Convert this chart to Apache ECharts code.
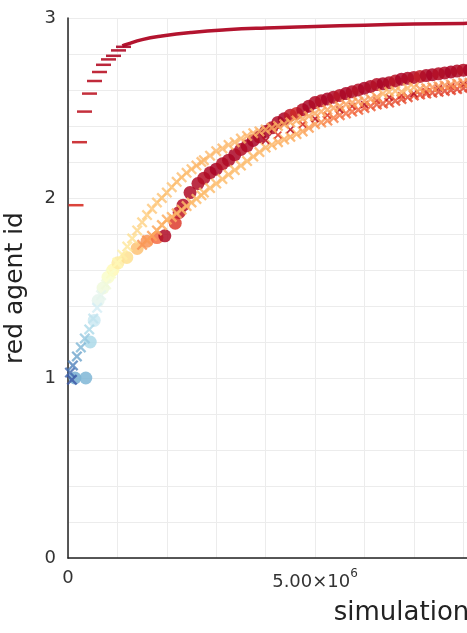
<!DOCTYPE html>
<html>
<head>
<meta charset="utf-8">
<script src="https://cdn.jsdelivr.net/npm/echarts/dist/echarts.min.js"></script>
<style>
  html, body { margin: 0; padding: 0; background: #fff; }
  #chart { width: 467px; height: 633px; }
</style>
</head>
<body>
<div id="chart"></div>
<script>
// top series: separate "-" markers near the start, then a dense run drawn as a line
const topMarkX = [1.62e5, 2.33e5, 3.34e5, 4.35e5, 5.36e5, 6.38e5, 7.19e5, 8.2e5, 9.21e5, 1.022e6, 1.123e6]
const topMarkY = [1.96, 2.31, 2.48, 2.58, 2.65, 2.70, 2.74, 2.77, 2.79, 2.82, 2.84]
const topMarkC = [0.9, 0.93, 0.95, 0.95, 0.96, 0.96, 0.97, 0.97, 0.98, 0.98, 0.99]
const topLineX = [1.1e6, 1.2e6, 1.5e6, 1.9e6, 2.5e6, 3.2e6, 4.0e6, 5.0e6, 6.0e6, 7.0e6, 8.0e6, 9.0e6, 1.0e7]
const topLineY = [2.845, 2.855, 2.88, 2.9, 2.92, 2.935, 2.945, 2.953, 2.96, 2.966, 2.97, 2.973, 2.976]

// x positions shared by the three rows of the thick band
const bandX = [2.75e6, 2.875e6, 3.0e6, 3.125e6, 3.25e6, 3.375e6, 3.5e6, 3.625e6, 3.75e6, 3.875e6,
  4.0e6, 4.125e6, 4.25e6, 4.375e6, 4.5e6, 4.625e6, 4.75e6, 4.875e6, 5.0e6, 5.125e6,
  5.25e6, 5.375e6, 5.5e6, 5.625e6, 5.75e6, 5.875e6, 6.0e6, 6.125e6, 6.25e6, 6.375e6,
  6.5e6, 6.625e6, 6.75e6, 6.875e6, 7.0e6, 7.125e6, 7.25e6, 7.375e6, 7.5e6, 7.625e6,
  7.75e6, 7.875e6, 8.0e6, 8.125e6, 8.25e6]

// circles
const circEarlyX = [1.4e5, 3.6e5, 4.5e5, 5.3e5, 6.1e5, 7.1e5, 8.1e5, 9.1e5, 1.01e6, 1.19e6,
  1.4e6, 1.6e6, 1.8e6, 1.96e6, 2.17e6, 2.25e6, 2.33e6, 2.47e6, 2.63e6]
const circEarlyY = [1.0, 1.0, 1.2, 1.32, 1.43, 1.5, 1.56, 1.6, 1.64, 1.67,
  1.72, 1.76, 1.78, 1.79, 1.86, 1.92, 1.96, 2.03, 2.08]
const circEarlyC = [0.2, 0.22, 0.3, 0.36, 0.42, 0.45, 0.48, 0.52, 0.56, 0.6,
  0.66, 0.74, 0.8, 0.98, 0.88, 0.95, 0.97, 0.98, 0.98]
const circBandY = [2.11, 2.14, 2.16, 2.19, 2.21, 2.24, 2.27, 2.29, 2.32, 2.34,
  2.37, 2.39, 2.42, 2.44, 2.46, 2.47, 2.49, 2.51, 2.53, 2.54,
  2.55, 2.56, 2.57, 2.58, 2.59, 2.60, 2.61, 2.62, 2.63, 2.635,
  2.64, 2.65, 2.66, 2.665, 2.67, 2.675, 2.68, 2.685, 2.69, 2.695,
  2.70, 2.705, 2.71, 2.71, 2.715]
const circBandC = [0.97, 0.98, 0.99, 0.97, 0.98, 0.99, 0.97, 0.98, 0.99, 0.98,
  0.99, 0.97, 0.98, 0.99, 0.95, 0.92, 0.97, 0.99, 0.98, 0.97,
  0.99, 0.98, 0.96, 0.99, 0.98, 0.97, 0.99, 0.98, 0.97, 0.99,
  0.98, 0.96, 0.99, 0.98, 0.97, 0.94, 0.98, 0.99, 0.97, 0.98,
  0.99, 0.98, 0.97, 0.99, 0.98]

// crosses, upper/left row
const xaEarlyX = [4e4, 8e4, 1.0e5, 1.8e5, 2.6e5, 3.4e5, 4.3e5, 5.1e5, 5.9e5, 6.7e5,
  7.7e5, 8.7e5, 1.0e6, 1.1e6, 1.2e6, 1.3e6, 1.4e6, 1.5e6, 1.6e6, 1.7e6,
  1.8e6, 1.9e6, 2.0e6, 2.1e6, 2.2e6, 2.3e6, 2.4e6, 2.5e6, 2.6e6, 2.7e6]
const xaEarlyY = [1.03, 0.99, 1.07, 1.12, 1.17, 1.22, 1.27, 1.33, 1.39, 1.46,
  1.52, 1.58, 1.64, 1.685, 1.73, 1.775, 1.82, 1.865, 1.905, 1.94,
  1.975, 2.0, 2.03, 2.06, 2.09, 2.115, 2.14, 2.16, 2.18, 2.2]
const xaEarlyC = [0.08, 0.05, 0.12, 0.18, 0.22, 0.26, 0.3, 0.34, 0.38, 0.42,
  0.45, 0.48, 0.52, 0.55, 0.58, 0.6, 0.62, 0.63, 0.64, 0.65,
  0.65, 0.66, 0.66, 0.66, 0.67, 0.67, 0.67, 0.67, 0.68, 0.68]
const xaBandY = [2.21, 2.235, 2.26, 2.275, 2.295, 2.31, 2.33, 2.345, 2.36, 2.37,
  2.38, 2.39, 2.40, 2.41, 2.42, 2.43, 2.44, 2.455, 2.47, 2.48,
  2.49, 2.50, 2.51, 2.52, 2.53, 2.535, 2.54, 2.55, 2.56, 2.58,
  2.59, 2.595, 2.59, 2.61, 2.615, 2.605, 2.61, 2.615, 2.62, 2.625,
  2.63, 2.635, 2.64, 2.64, 2.645]
const xaBandC = [0.68, 0.68, 0.68, 0.68, 0.68, 0.68, 0.68, 0.69, 0.69, 0.69,
  0.69, 0.7, 0.7, 0.7, 0.7, 0.7, 0.71, 0.71, 0.71, 0.71,
  0.72, 0.72, 0.72, 0.72, 0.72, 0.73, 0.73, 0.73, 0.73, 0.69,
  0.68, 0.68, 0.7, 0.68, 0.69, 0.73, 0.73, 0.74, 0.74, 0.74,
  0.74, 0.75, 0.75, 0.75, 0.75]

// crosses, lower row
const xbEarlyX = [1.5e6, 1.6e6, 1.7e6, 1.8e6, 1.9e6, 2.0e6, 2.1e6, 2.2e6, 2.3e6, 2.4e6,
  2.5e6, 2.6e6, 2.7e6]
const xbEarlyY = [1.74, 1.765, 1.79, 1.82, 1.85, 1.88, 1.895, 1.915, 1.935, 1.955,
  1.975, 1.995, 2.015]
const xbEarlyC = [0.74, 0.73, 0.72, 0.71, 0.7, 0.7, 0.69, 0.69, 0.68, 0.68,
  0.68, 0.67, 0.67]
const xbBandY = [2.03, 2.055, 2.08, 2.105, 2.13, 2.155, 2.18, 2.205, 2.23, 2.255,
  2.28, 2.295, 2.31, 2.325, 2.34, 2.355, 2.37, 2.39, 2.41, 2.42,
  2.43, 2.445, 2.46, 2.47, 2.48, 2.49, 2.50, 2.51, 2.52, 2.525,
  2.53, 2.54, 2.55, 2.56, 2.57, 2.575, 2.58, 2.585, 2.59, 2.595,
  2.60, 2.605, 2.61, 2.615, 2.62]
const xbBandC = [0.67, 0.67, 0.67, 0.67, 0.67, 0.67, 0.67, 0.67, 0.68, 0.68,
  0.68, 0.68, 0.69, 0.69, 0.7, 0.7, 0.71, 0.72, 0.73, 0.74,
  0.76, 0.77, 0.78, 0.79, 0.8, 0.81, 0.82, 0.82, 0.83, 0.83,
  0.84, 0.84, 0.84, 0.85, 0.85, 0.85, 0.85, 0.85, 0.86, 0.86,
  0.86, 0.86, 0.86, 0.86, 0.86]

// small dark crosses in the middle of the band
const xcX = [4.0e6, 4.25e6, 4.5e6, 4.75e6, 5.0e6, 5.25e6, 5.5e6, 5.75e6, 6.0e6, 6.25e6,
  6.5e6, 6.75e6, 7.0e6, 7.25e6, 7.5e6, 7.75e6, 8.0e6, 8.25e6]
const xcY = [2.32, 2.35, 2.38, 2.41, 2.44, 2.46, 2.49, 2.51, 2.52, 2.54,
  2.56, 2.57, 2.58, 2.59, 2.61, 2.62, 2.63, 2.63]
const xcC = [0.96, 0.88, 0.95, 0.9, 0.96, 0.88, 0.95, 0.9, 0.96, 0.88,
  0.95, 0.9, 0.96, 0.88, 0.95, 0.9, 0.96, 0.9]

const FONT = 'DejaVu Sans'
const CROSS = 'path://M0,1.5L1.5,0L5,3.5L8.5,0L10,1.5L6.5,5L10,8.5L8.5,10L5,6.5L1.5,10L0,8.5L3.5,5Z'

function pts(xs, ys, cs) {
  return xs.map((x, i) => cs ? [x, ys[i], cs[i]] : [x, ys[i]])
}

function xLabel(v) {
  if (v === 0) return '{z|0}'
  let e = Math.floor(Math.log10(v))
  let m = (v / Math.pow(10, e)).toFixed(2)
  return '{m|' + m + '×10}{e|' + e + '}'
}

const chart = echarts.init(document.getElementById('chart'))
chart.setOption({
  animation: false,
  // plot runs past the right edge of the window, the picture is cropped there
  grid: { left: 68, top: 18, bottom: 75, right: -268, outerBoundsMode: 'none', containLabel: false },
  visualMap: {
    show: false, type: 'continuous', dimension: 2, min: 0, max: 1,
    seriesIndex: [1, 2, 3, 4, 5],
    inRange: { color: ['#313695', '#4575b4', '#74add1', '#abd9e9', '#e0f3f8', '#ffffbf',
      '#fee090', '#fdae61', '#f46d43', '#d73027', '#a50026'] }
  },
  xAxis: {
    type: 'value', min: 0, max: 1.35e7, interval: 5e6,
    name: 'simulation', nameLocation: 'middle', nameGap: 42,
    nameTextStyle: { fontFamily: FONT, fontSize: 26, color: '#222' },
    axisLine: { lineStyle: { color: '#222', width: 1.5 } },
    axisTick: { show: false },
    axisLabel: {
      margin: 10, formatter: xLabel, showMaxLabel: false,
      rich: {
        z: { fontFamily: FONT, fontSize: 18, color: '#333', lineHeight: 20 },
        m: { fontFamily: FONT, fontSize: 18, color: '#333', lineHeight: 28 },
        e: { fontFamily: FONT, fontSize: 12, color: '#333', lineHeight: 16, verticalAlign: 'top' }
      }
    },
    splitLine: { lineStyle: { color: '#ececec' } },
    minorTick: { show: false, splitNumber: 5 },
    minorSplitLine: { show: true, lineStyle: { color: '#ececec' } }
  },
  yAxis: {
    type: 'value', min: 0, max: 3, interval: 1,
    name: 'red agent id', nameLocation: 'middle', nameGap: 40,
    nameTextStyle: { fontFamily: FONT, fontSize: 25, color: '#222' },
    axisLine: { show: true, lineStyle: { color: '#222', width: 1.5 } },
    axisTick: { show: false },
    axisLabel: { margin: 12, fontFamily: FONT, fontSize: 18, color: '#333' },
    splitLine: { lineStyle: { color: '#ececec' } },
    minorTick: { show: false, splitNumber: 5 },
    minorSplitLine: { show: true, lineStyle: { color: '#ececec' } }
  },
  series: [
    {
      type: 'line', data: pts(topLineX, topLineY), showSymbol: false, smooth: true,
      lineStyle: { color: '#b3142f', width: 3.5 }, z: 2
    },
    {
      type: 'scatter', data: pts(topMarkX, topMarkY, topMarkC),
      symbol: 'rect', symbolSize: [15, 2.5], itemStyle: { opacity: 0.9 }, z: 2
    },
    {
      type: 'scatter',
      data: pts(circEarlyX.concat(bandX), circEarlyY.concat(circBandY), circEarlyC.concat(circBandC)),
      symbol: 'circle', symbolSize: 13, itemStyle: { opacity: 0.85 }, z: 3
    },
    {
      type: 'scatter',
      data: pts(xbEarlyX.concat(bandX), xbEarlyY.concat(xbBandY), xbEarlyC.concat(xbBandC)),
      symbol: CROSS, symbolSize: 11, itemStyle: { opacity: 0.85 }, z: 4
    },
    {
      type: 'scatter', data: pts(xcX, xcY, xcC),
      symbol: CROSS, symbolSize: 8, itemStyle: { opacity: 0.9 }, z: 5
    },
    {
      type: 'scatter',
      data: pts(xaEarlyX.concat(bandX), xaEarlyY.concat(xaBandY), xaEarlyC.concat(xaBandC)),
      symbol: CROSS, symbolSize: 11, itemStyle: { opacity: 0.8 }, z: 6
    }
  ]
})
</script>
</body>
</html>
